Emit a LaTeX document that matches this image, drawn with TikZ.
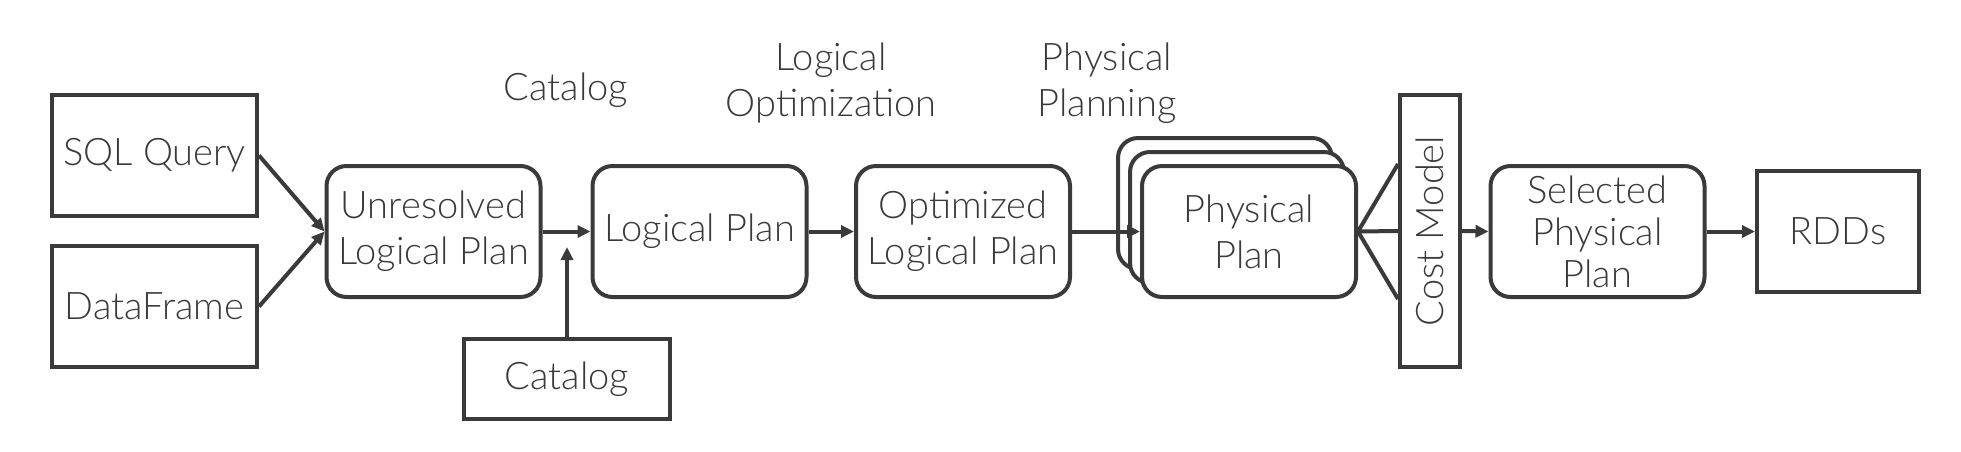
\documentclass[tikz,border=0pt]{standalone}
\usepackage{fontspec}
\setmainfont{Lato}[UprightFont={* Light}]
\usetikzlibrary{arrows.meta}
\definecolor{ink}{HTML}{3A3A3A}
\begin{document}
\begin{tikzpicture}[x=1pt,y=-1pt,
  every node/.style={text=ink, font=\fontsize{38}{46}\selectfont, align=center, inner sep=0pt},
  sqbox/.style={draw=ink, line width=4pt, minimum height=121pt},
  rbox/.style={draw=ink, line width=4pt, rounded corners=20pt, minimum width=214pt, minimum height=131pt, fill=white},
  conn/.style={draw=ink, line width=4pt, -{Triangle[length=13pt,width=12pt]}},
  plain/.style={draw=ink, line width=4pt}]
\useasboundingbox (0,0) rectangle (1961,451);
\node[sqbox, minimum width=205pt] (sql) at (154.5,155.5) {SQL Query};
\node[sqbox, minimum width=205pt] (df) at (154.5,306.5) {DataFrame};
\node[rbox] (unres) at (433.5,231.5) {Unresolved\\Logical Plan};
\node[rbox] (log) at (699.5,231.5) {Logical Plan};
\node[rbox] (opt) at (963,231.5) {Optimized\\Logical Plan};
\node[rbox] (phys3) at (1225,203.5) {};
\node[rbox] (phys2) at (1237,217.5) {};
\node[rbox] (phys) at (1249,231.5) {Physical\\Plan};
\node[draw=ink, line width=4pt, minimum width=272pt, minimum height=60pt, rotate=90] (cost) at (1430,231) {Cost Model};
\node[rbox, font=\fontsize{38}{42}\selectfont] (sel) at (1597.5,231.5) {Selected\\Physical\\Plan};
\node[sqbox, minimum width=162pt] (rdd) at (1838,231.5) {RDDs};
\node[draw=ink, line width=4pt, minimum width=206pt, minimum height=80pt] (cat) at (567,379) {Catalog};
\node (lcat) at (566,90) {Catalog};
\node (lopt) at (831,83) {Logical\\Optimization};
\node (lphys) at (1107,83) {Physical\\Planning};
\coordinate (catend) at (567,247);
\coordinate (fanup) at (phys.north -| cost.north);
\coordinate (fandown) at (phys.south -| cost.north);
\draw[conn] (sql.east) -- (unres.west);
\draw[conn] (df.east) -- (unres.west);
\draw[conn] (unres.east) -- (log.west);
\draw[conn] (cat.north) -- (catend);
\draw[conn] (log.east) -- (opt.west);
\draw[conn] (opt.east) -- (phys.west);
\draw[plain] (phys.east) -- (fanup);
\draw[plain] (phys.east) -- (cost.north);
\draw[plain] (phys.east) -- (fandown);
\draw[conn] (cost.south) -- (sel.west);
\draw[conn] (sel.east) -- (rdd.west);
\end{tikzpicture}
\end{document}
